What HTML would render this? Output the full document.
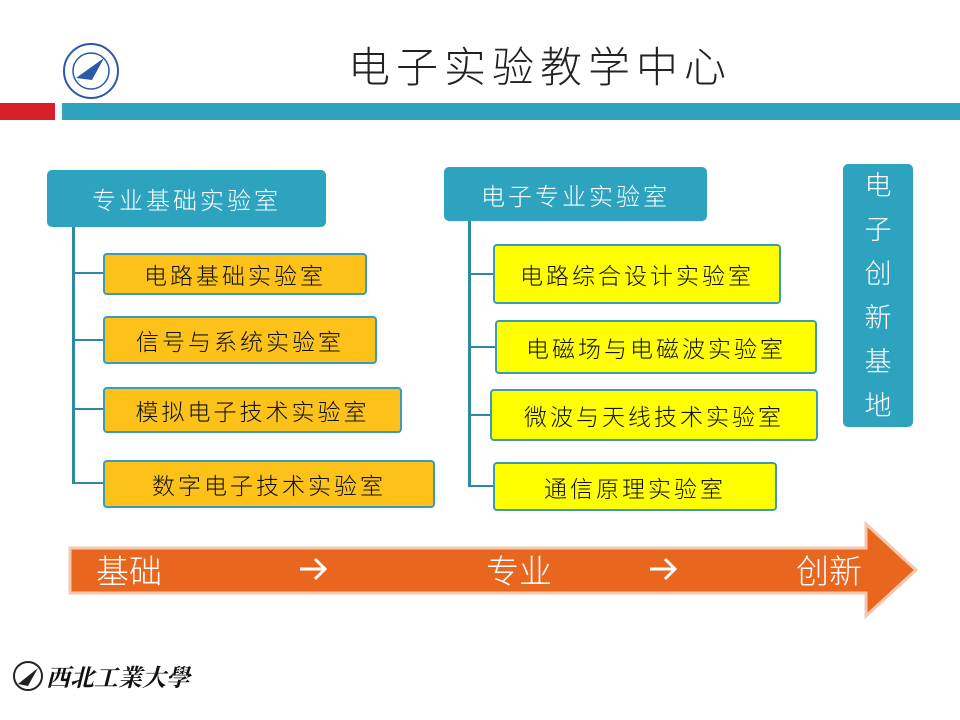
<!DOCTYPE html>
<html><head><meta charset="utf-8"><style>
body{margin:0;width:960px;height:720px;background:#fff;position:relative;overflow:hidden;font-family:"Liberation Sans","Noto Sans CJK SC",sans-serif}
div{position:absolute;box-sizing:border-box}
.t{background:#2ea3bf;color:#fff;border-radius:5px;display:flex;align-items:center;justify-content:center;font-size:24px;letter-spacing:3px;font-weight:300}
.o{background:#fcc21a;border:2px solid #3a9db5;border-radius:4px;display:flex;align-items:center;justify-content:center;font-size:23px;letter-spacing:3px;color:#111;font-weight:300}
.y{background:#ffff00;border:2px solid #3a9db5;border-radius:4px;display:flex;align-items:center;justify-content:center;font-size:23px;letter-spacing:3px;color:#111;font-weight:300}
.l{background:#2e8aa3}
</style></head><body>
<svg style="position:absolute;left:62px;top:42px" width="58" height="58"><circle cx="29" cy="29" r="27" fill="#fff" stroke="#2a5aa8" stroke-width="2"/><circle cx="29" cy="29" r="18" fill="none" stroke="#2a5aa8" stroke-width="1.5"/><path d="M14 36 L42 16 L30 38 Z" fill="#2a5aa8"/></svg>
<div style="left:348px;top:34px;font-size:42px;letter-spacing:6px;color:#222;font-weight:300">电子实验教学中心</div>
<div style="left:0;top:103px;width:55px;height:17px;background:#d9202a"></div>
<div style="left:62px;top:103px;width:898px;height:17px;background:#2ea3bf"></div>

<div class="t" style="left:47px;top:170px;width:279px;height:57px">专业基础实验室</div>
<div class="l" style="left:72px;top:227px;width:3px;height:257px"></div>
<div class="l" style="left:72px;top:272px;width:32px;height:2px"></div>
<div class="l" style="left:72px;top:339px;width:32px;height:2px"></div>
<div class="l" style="left:72px;top:408px;width:32px;height:2px"></div>
<div class="l" style="left:72px;top:482px;width:32px;height:2px"></div>
<div class="o" style="left:103px;top:253px;width:264px;height:42px">电路基础实验室</div>
<div class="o" style="left:103px;top:316px;width:274px;height:48px">信号与系统实验室</div>
<div class="o" style="left:103px;top:387px;width:299px;height:46px">模拟电子技术实验室</div>
<div class="o" style="left:103px;top:460px;width:332px;height:48px">数字电子技术实验室</div>

<div class="t" style="left:444px;top:167px;width:263px;height:54px">电子专业实验室</div>
<div class="l" style="left:468px;top:221px;width:3px;height:266px"></div>
<div class="l" style="left:468px;top:273px;width:26px;height:2px"></div>
<div class="l" style="left:468px;top:346px;width:28px;height:2px"></div>
<div class="l" style="left:468px;top:414px;width:24px;height:2px"></div>
<div class="l" style="left:468px;top:485px;width:26px;height:2px"></div>
<div class="y" style="left:493px;top:244px;width:288px;height:60px">电路综合设计实验室</div>
<div class="y" style="left:495px;top:320px;width:322px;height:54px">电磁场与电磁波实验室</div>
<div class="y" style="left:490px;top:389px;width:328px;height:52px">微波与天线技术实验室</div>
<div class="y" style="left:493px;top:462px;width:284px;height:49px">通信原理实验室</div>

<div class="t" style="left:843px;top:164px;width:70px;height:263px;font-size:27px;line-height:44px;letter-spacing:0;text-align:center;padding:8px 0">电<br>子<br>创<br>新<br>基<br>地</div>

<svg style="position:absolute;left:0;top:0" width="960" height="720">
<polygon points="70,548 866,548 866,524 916,570 866,616 866,593 70,593" fill="#e9661f" stroke="#f2c9b0" stroke-width="3"/>
<g fill="#fff" font-size="33" font-weight="300" font-family="Liberation Sans,Noto Sans CJK SC,sans-serif">
<text x="96" y="583">基础</text>
<text x="486" y="583">专业</text>
<text x="796" y="583">创新</text>
</g>
<g stroke="#fff" stroke-width="3" fill="none"><path d="M300 569 H324 M315 559 L325 569 L315 579"/><path d="M650 569 H674 M665 559 L675 569 L665 579"/></g>
<circle cx="28" cy="676" r="14" fill="none" stroke="#222" stroke-width="2"/>
<path d="M18 684 L38 668 L28 686 Z" fill="#222"/>
<text x="46" y="686" fill="#111" font-size="24" font-style="italic" font-weight="bold" font-family="Liberation Serif,Noto Serif CJK SC,serif">西北工業大學</text>
</svg>
</body></html>
